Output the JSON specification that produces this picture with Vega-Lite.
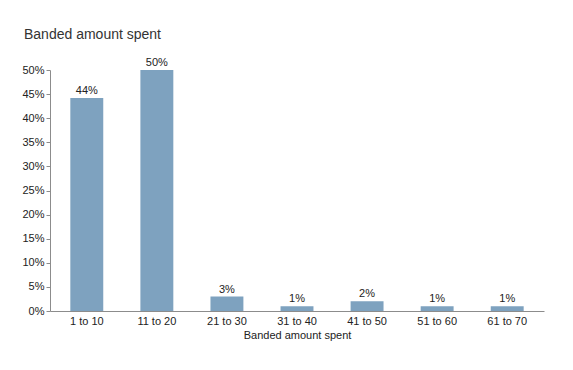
{
  "$schema": "https://vega.github.io/schema/vega-lite/v6.json",
  "width": 494,
  "height": 241,
  "autosize": "none",
  "padding": {"left": 50, "top": 70, "right": 29, "bottom": 59},
  "background": "white",
  "title": {
    "text": "Banded amount spent",
    "anchor": "start",
    "frame": "group",
    "dx": -26,
    "dy": 27,
    "offset": 31,
    "baseline": "alphabetic",
    "fontSize": 14,
    "font": "Liberation Sans",
    "fontWeight": "normal",
    "color": "#333333"
  },
  "config": {
    "view": {"stroke": null},
    "axis": {
      "labelFont": "Liberation Sans",
      "titleFont": "Liberation Sans",
      "labelFontSize": 11,
      "titleFontSize": 11,
      "labelColor": "#222222",
      "titleColor": "#222222",
      "titleFontWeight": "normal",
      "domainColor": "#8c8c8c",
      "tickColor": "#8c8c8c"
    }
  },
  "data": {
    "values": [
      {"band": "1 to 10", "pct": 0.442, "label": "44%"},
      {"band": "11 to 20", "pct": 0.5, "label": "50%"},
      {"band": "21 to 30", "pct": 0.03, "label": "3%"},
      {"band": "31 to 40", "pct": 0.01, "label": "1%"},
      {"band": "41 to 50", "pct": 0.02, "label": "2%"},
      {"band": "51 to 60", "pct": 0.01, "label": "1%"},
      {"band": "61 to 70", "pct": 0.01, "label": "1%"}
    ]
  },
  "encoding": {
    "x": {
      "field": "band",
      "type": "nominal",
      "sort": null,
      "scale": {"paddingInner": 0.53, "paddingOuter": 0.29},
      "axis": {
        "labelAngle": 0,
        "ticks": false,
        "labelPadding": 4,
        "titlePadding": 3,
        "title": "Banded amount spent"
      }
    },
    "y": {
      "field": "pct",
      "type": "quantitative",
      "scale": {"domain": [0, 0.5], "nice": false},
      "axis": {
        "format": ".0%",
        "values": [0, 0.05, 0.1, 0.15, 0.2, 0.25, 0.3, 0.35, 0.4, 0.45, 0.5],
        "grid": false,
        "tickSize": 4,
        "labelPadding": 2,
        "title": null
      }
    }
  },
  "layer": [
    {"mark": {"type": "bar", "color": "#7ea2bf"}},
    {
      "mark": {
        "type": "text",
        "baseline": "bottom",
        "dy": -2,
        "font": "Liberation Sans",
        "fontSize": 11,
        "color": "#222222"
      },
      "encoding": {"text": {"field": "label"}}
    }
  ]
}
